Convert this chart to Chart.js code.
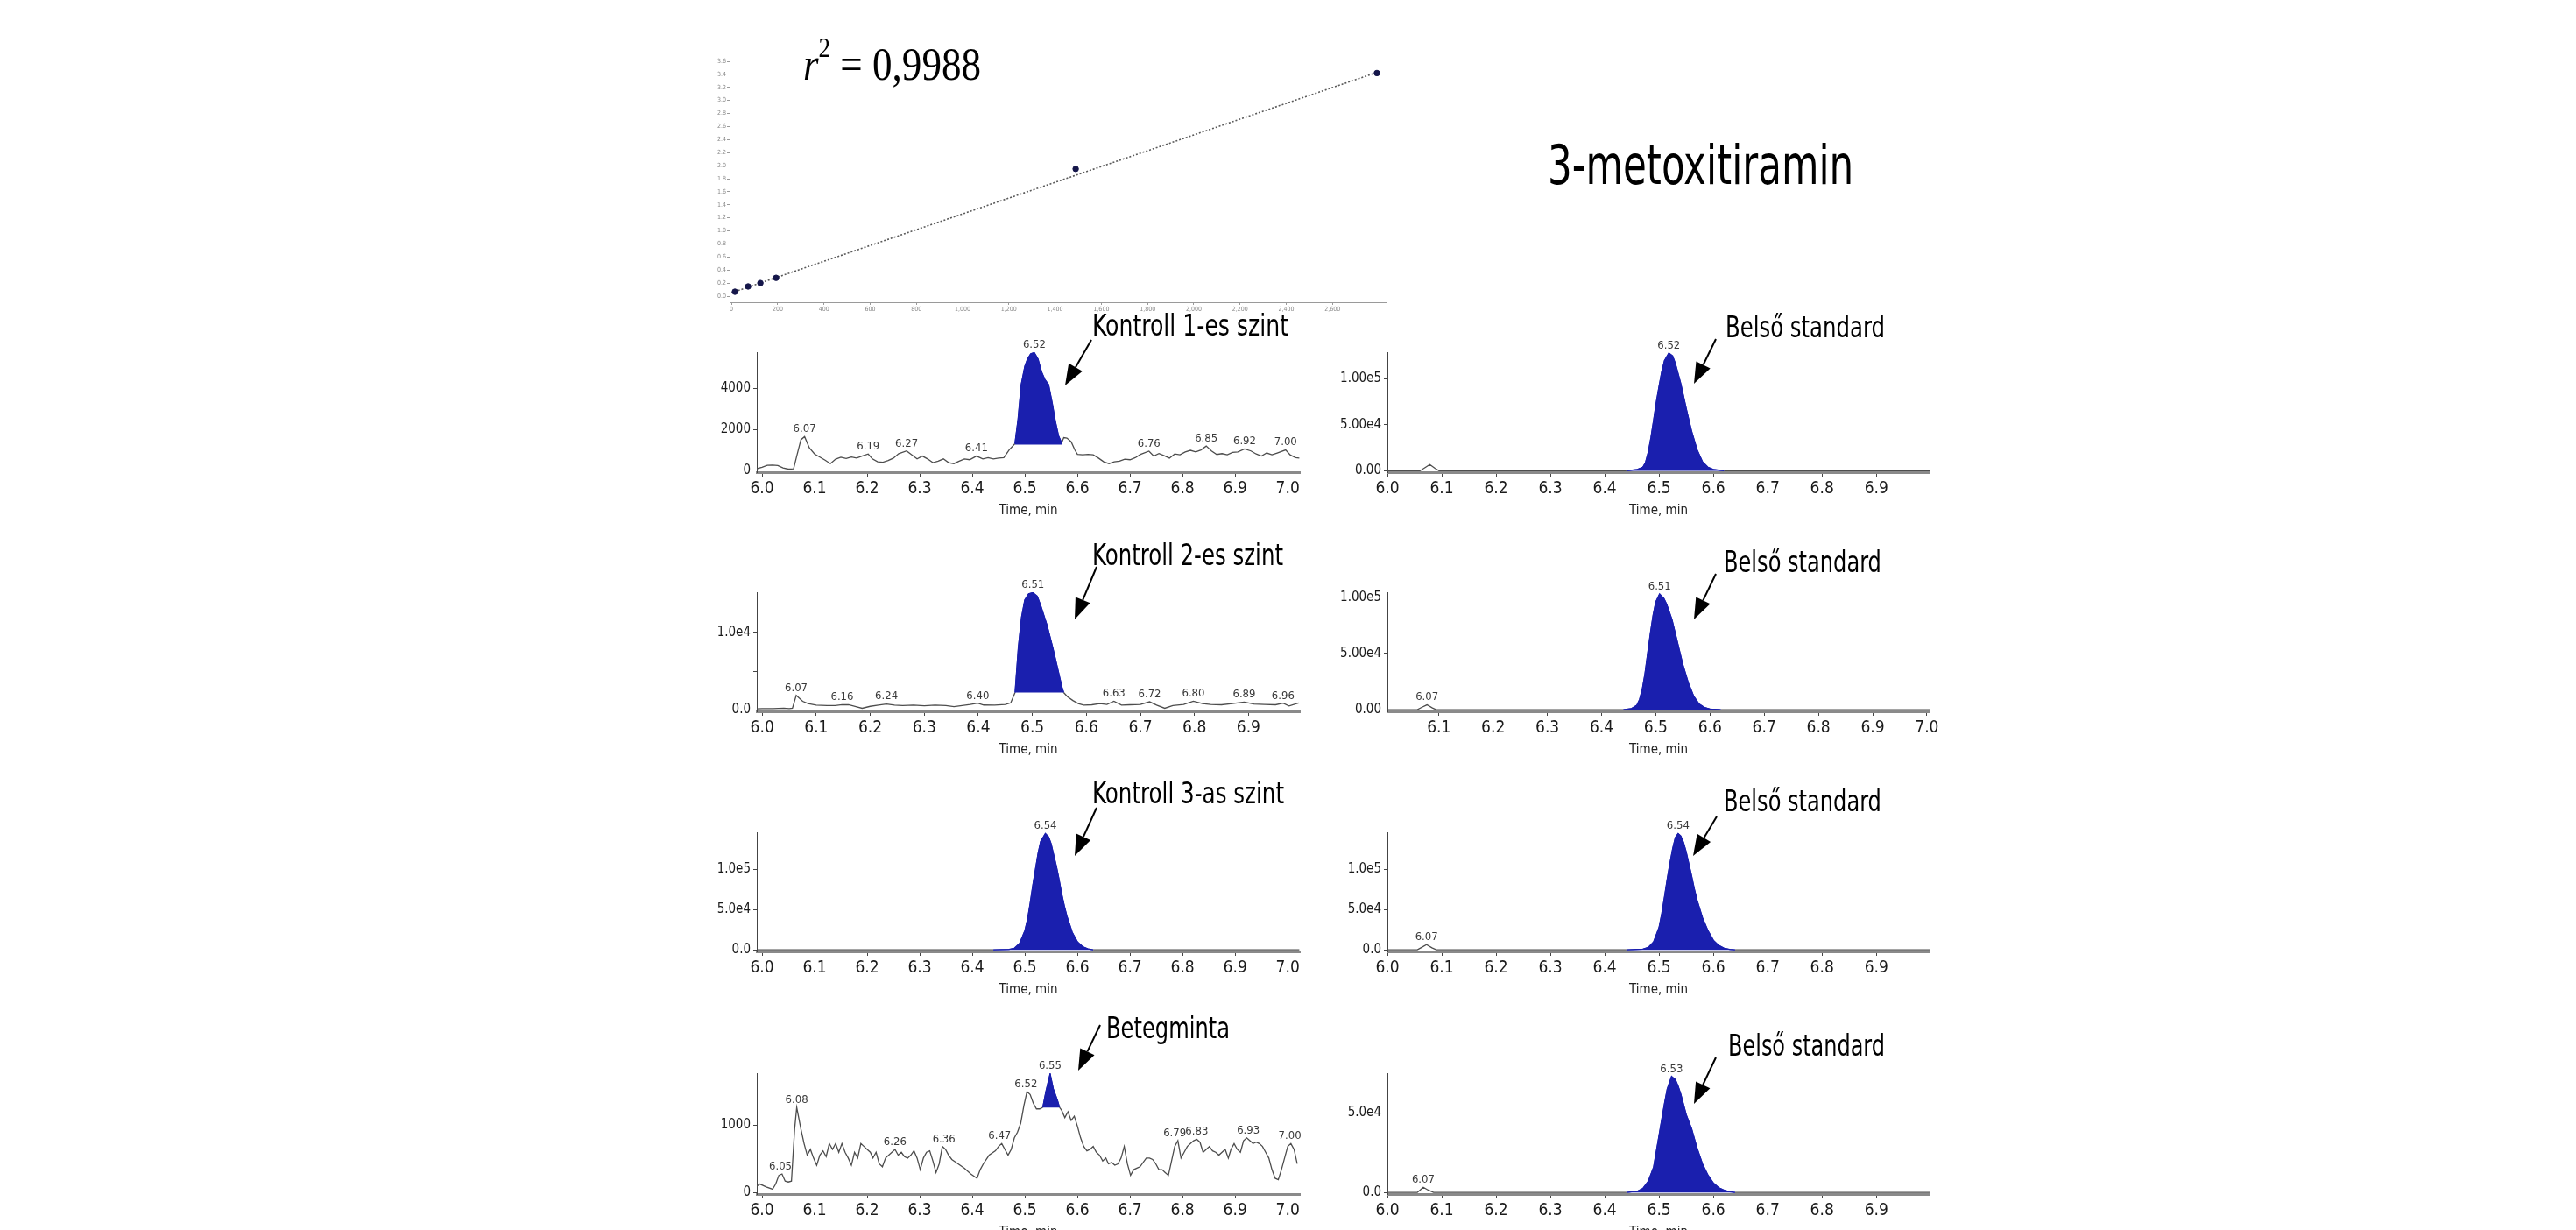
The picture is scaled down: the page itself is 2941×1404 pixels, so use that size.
<!DOCTYPE html>
<html>
<head>
<meta charset="utf-8">
<title>3-metoxitiramin</title>
<script src="https://cdn.jsdelivr.net/npm/chart.js@4.4.1/dist/chart.umd.min.js"></script>
<style>
  html, body { margin: 0; padding: 0; background: #fff; }
  body { width: 2941px; height: 1404px; overflow: hidden; position: relative; }
  .panel { position: absolute; }
  .lbl { position: absolute; white-space: nowrap; line-height: 1; transform-origin: 0 0; color: #000; }
  #arrows { position: absolute; left: 0; top: 0; z-index: 5; pointer-events: none; }
</style>
</head>
<body>
<canvas id="arrows" width="2941" height="1404"></canvas>
<script>
// ---- adatok (kalibráció) ----
const calConc = [15, 72, 125, 193, 1489, 2792];
const calRatio = [0.067, 0.148, 0.20, 0.28, 1.95, 3.42];
const calFitConc = [0, 2800];
const calFitRatio = [0.05, 3.44];
const calXTicks = [0, 200, 400, 600, 800, 1000, 1200, 1400, 1600, 1800, 2000, 2200, 2400, 2600];
const calYTicks = [0, 0.2, 0.4, 0.6, 0.8, 1.0, 1.2, 1.4, 1.6, 1.8, 2.0, 2.2, 2.4, 2.6, 2.8, 3.0, 3.2, 3.4, 3.6];

// ---- kromatogramok: [idő (min), intenzitás (cps)] ----
const timeTicks = [6.0, 6.1, 6.2, 6.3, 6.4, 6.5, 6.6, 6.7, 6.8, 6.9, 7.0];

const kontroll1 = [[5.982,60],[5.99,80],[6.00,150],[6.01,250],[6.02,260],[6.03,240],[6.04,120],[6.05,60],[6.06,80],[6.066,700],[6.074,1500],[6.081,1650],[6.09,1100],[6.10,800],[6.11,650],[6.12,500],[6.13,330],[6.14,550],[6.15,640],[6.16,580],[6.17,650],[6.18,600],[6.19,700],[6.202,800],[6.21,560],[6.22,420],[6.23,400],[6.24,480],[6.25,600],[6.26,820],[6.275,950],[6.285,760],[6.295,560],[6.305,700],[6.315,560],[6.325,380],[6.335,450],[6.345,560],[6.355,380],[6.365,330],[6.375,450],[6.385,560],[6.395,520],[6.408,700],[6.42,560],[6.43,620],[6.44,560],[6.45,600],[6.46,620],[6.47,1000],[6.481,1300],[6.487,2500],[6.493,4200],[6.50,5100],[6.505,5450],[6.511,5700],[6.518,5760],[6.525,5450],[6.532,4800],[6.538,4450],[6.545,4200],[6.552,3300],[6.558,2400],[6.564,1700],[6.57,1350],[6.574,1600],[6.58,1580],[6.588,1400],[6.595,1000],[6.60,780],[6.61,760],[6.62,780],[6.63,760],[6.64,600],[6.65,420],[6.66,330],[6.67,420],[6.68,450],[6.69,550],[6.70,520],[6.71,620],[6.72,780],[6.736,940],[6.745,700],[6.755,820],[6.765,720],[6.775,600],[6.785,800],[6.795,760],[6.805,900],[6.815,980],[6.825,900],[6.835,1000],[6.845,1190],[6.855,950],[6.865,780],[6.875,820],[6.885,760],[6.895,880],[6.905,900],[6.918,1050],[6.93,950],[6.94,800],[6.95,700],[6.96,850],[6.97,760],[6.98,850],[6.996,1000],[7.005,750],[7.015,620],[7.022,600]];
const kontroll1PeakAt = [6.081, 6.202, 6.275, 6.408, 6.518, 6.736, 6.845, 6.918, 6.996];
const kontroll1PeakText = ['6.07', '6.19', '6.27', '6.41', '6.52', '6.76', '6.85', '6.92', '7.00'];

const belso1 = [[6.00,0],[6.06,0],[6.068,3000],[6.078,6900],[6.088,2500],[6.095,0],[6.44,0],[6.46,1500],[6.47,4000],[6.475,9000],[6.48,20000],[6.485,36000],[6.49,55000],[6.495,75000],[6.50,92000],[6.505,108000],[6.51,120000],[6.518,128000],[6.525,125000],[6.53,117000],[6.54,95000],[6.55,68000],[6.56,43000],[6.57,23000],[6.58,10000],[6.59,4000],[6.60,1500],[6.62,0],[7.00,0]];
const belso1PeakAt = [6.518];
const belso1PeakText = ['6.52'];

const kontroll2 = [[5.985,100],[6.00,150],[6.02,150],[6.04,200],[6.05,150],[6.056,200],[6.063,1870],[6.075,1100],[6.085,800],[6.10,600],[6.12,560],[6.135,560],[6.148,670],[6.16,650],[6.175,380],[6.185,200],[6.20,450],[6.215,600],[6.23,750],[6.245,600],[6.26,560],[6.28,600],[6.30,520],[6.32,600],[6.34,560],[6.355,400],[6.37,560],[6.385,700],[6.399,860],[6.41,620],[6.43,600],[6.45,700],[6.46,900],[6.468,2240],[6.474,8000],[6.48,12000],[6.486,14200],[6.493,15000],[6.501,15150],[6.509,14700],[6.515,13600],[6.527,11000],[6.538,8000],[6.548,5000],[6.555,2900],[6.558,2240],[6.565,1700],[6.575,1200],[6.585,800],[6.595,600],[6.61,650],[6.625,800],[6.638,700],[6.651,1100],[6.665,600],[6.68,650],[6.70,700],[6.717,1040],[6.73,600],[6.745,200],[6.76,560],[6.78,700],[6.798,1120],[6.815,800],[6.83,700],[6.85,650],[6.87,800],[6.892,1000],[6.91,750],[6.93,700],[6.95,650],[6.964,860],[6.975,500],[6.993,900]];
const kontroll2PeakAt = [6.063, 6.148, 6.23, 6.399, 6.501, 6.651, 6.717, 6.798, 6.892, 6.964];
const kontroll2PeakText = ['6.07', '6.16', '6.24', '6.40', '6.51', '6.63', '6.72', '6.80', '6.89', '6.96'];

const belso2 = [[6.005,0],[6.06,0],[6.068,2000],[6.078,4300],[6.088,1500],[6.095,0],[6.44,0],[6.455,1000],[6.465,4000],[6.47,9000],[6.475,18000],[6.48,32000],[6.485,50000],[6.49,68000],[6.495,84000],[6.50,96000],[6.507,103000],[6.515,99000],[6.52,94000],[6.53,80000],[6.54,60000],[6.55,40000],[6.56,24000],[6.57,12000],[6.58,5000],[6.59,2000],[6.60,600],[6.62,0],[7.005,0]];
const belso2PeakAt = [6.078, 6.507];
const belso2PeakText = ['6.07', '6.51'];

const kontroll3 = [[5.99,0],[6.44,0],[6.47,500],[6.48,2000],[6.49,8000],[6.50,24000],[6.505,38000],[6.51,58000],[6.515,80000],[6.52,100000],[6.525,120000],[6.53,135000],[6.539,145000],[6.545,141000],[6.55,132000],[6.555,118000],[6.56,104000],[6.565,88000],[6.57,70000],[6.575,55000],[6.58,42000],[6.59,22000],[6.60,10000],[6.61,4000],[6.62,1200],[6.63,0],[7.022,0]];
const kontroll3PeakAt = [6.539];
const kontroll3PeakText = ['6.54'];

const belso3 = [[6.0,0],[6.055,0],[6.063,3000],[6.072,6400],[6.082,2500],[6.09,0],[6.44,0],[6.47,800],[6.48,3000],[6.49,10000],[6.50,28000],[6.505,45000],[6.51,66000],[6.515,88000],[6.52,108000],[6.525,126000],[6.53,140000],[6.535,145000],[6.54,142000],[6.545,134000],[6.55,122000],[6.555,107000],[6.56,92000],[6.565,76000],[6.57,62000],[6.58,40000],[6.59,24000],[6.60,12000],[6.61,5500],[6.62,2000],[6.63,500],[6.64,0],[6.998,0]];
const belso3PeakAt = [6.072, 6.535];
const belso3PeakText = ['6.07', '6.54'];

const beteg = [[5.984,64],[5.996,129],[6.008,86],[6.020,52],[6.026,129],[6.032,258],[6.038,279],[6.044,172],[6.050,159],[6.056,172],[6.062,944],[6.066,1266],[6.074,944],[6.080,730],[6.086,558],[6.092,644],[6.098,515],[6.104,408],[6.110,558],[6.116,622],[6.122,536],[6.128,730],[6.134,644],[6.140,730],[6.146,601],[6.152,730],[6.158,601],[6.164,515],[6.170,408],[6.176,601],[6.182,515],[6.188,730],[6.194,687],[6.200,644],[6.206,601],[6.211,515],[6.217,601],[6.223,429],[6.229,386],[6.235,515],[6.247,600],[6.253,644],[6.259,558],[6.265,601],[6.271,536],[6.277,515],[6.283,558],[6.289,622],[6.295,515],[6.301,343],[6.307,515],[6.313,601],[6.319,622],[6.325,472],[6.331,300],[6.337,429],[6.343,687],[6.349,644],[6.355,558],[6.361,494],[6.373,429],[6.385,365],[6.397,279],[6.409,215],[6.415,343],[6.421,429],[6.432,558],[6.444,622],[6.450,687],[6.456,730],[6.462,644],[6.468,558],[6.474,644],[6.480,815],[6.486,901],[6.492,1030],[6.498,1288],[6.504,1502],[6.510,1459],[6.516,1330],[6.522,1245],[6.528,1245],[6.534,1266],[6.540,1502],[6.548,1768],[6.554,1545],[6.562,1373],[6.566,1266],[6.570,1223],[6.576,1116],[6.582,1202],[6.588,1073],[6.594,1137],[6.600,987],[6.606,815],[6.612,687],[6.618,622],[6.624,644],[6.630,687],[6.636,601],[6.642,558],[6.648,472],[6.654,515],[6.659,429],[6.665,451],[6.671,408],[6.677,429],[6.683,515],[6.689,687],[6.695,429],[6.701,258],[6.707,343],[6.713,365],[6.719,386],[6.731,515],[6.737,515],[6.743,494],[6.749,429],[6.755,343],[6.761,343],[6.767,300],[6.773,258],[6.779,472],[6.785,687],[6.791,773],[6.797,515],[6.803,601],[6.809,687],[6.815,730],[6.821,773],[6.827,794],[6.833,751],[6.839,601],[6.845,644],[6.851,687],[6.857,622],[6.863,601],[6.869,558],[6.875,601],[6.881,644],[6.887,515],[6.892,644],[6.898,730],[6.904,644],[6.910,601],[6.916,773],[6.922,815],[6.928,773],[6.934,730],[6.940,751],[6.946,730],[6.952,687],[6.958,601],[6.964,515],[6.970,343],[6.976,215],[6.982,193],[6.988,343],[6.994,515],[7.000,687],[7.006,730],[7.012,644],[7.018,429]];
const betegPeakAt = [6.035, 6.066, 6.253, 6.346, 6.452, 6.502, 6.548, 6.785, 6.827, 6.925, 7.004];
const betegPeakText = ['6.05', '6.08', '6.26', '6.36', '6.47', '6.52', '6.55', '6.79', '6.83', '6.93', '7.00'];

const belso4 = [[6.0,0],[6.055,0],[6.06,1500],[6.066,3300],[6.075,1500],[6.085,0],[6.44,0],[6.46,800],[6.47,2500],[6.48,7000],[6.49,16000],[6.50,36000],[6.505,46000],[6.51,56000],[6.515,65000],[6.523,73000],[6.53,71000],[6.535,67000],[6.54,62000],[6.55,49000],[6.56,40000],[6.565,34000],[6.57,28000],[6.58,18000],[6.59,11000],[6.60,6000],[6.61,3000],[6.62,1400],[6.63,500],[6.64,0],[6.998,0]];
const belso4PeakAt = [6.066, 6.523];
const belso4PeakText = ['6.07', '6.53'];

// y tengely osztások
const yTicksK1 = [0, 2000, 4000],      yLabelsK1 = ['0', '2000', '4000'];
const yTicksB12 = [0, 50000, 100000],  yLabelsB12 = ['0.00', '5.00e4', '1.00e5'];
const yTicksK2 = [0, 5000, 10000],     yLabelsK2 = ['0.0', '', '1.0e4'];
const yTicks3 = [0, 50000, 100000],    yLabels3 = ['0.0', '5.0e4', '1.0e5'];
const yTicksBeteg = [0, 1000],         yLabelsBeteg = ['0', '1000'];
const yTicksB4 = [0, 50000],           yLabelsB4 = ['0.0', '5.0e4'];

// ---- stílus ----
const BLUE = '#1a1fae';
const TRACE = '#4d4d4d';
const NARROW = "'Liberation Sans Narrow', 'DejaVu Sans Condensed', sans-serif";
const AX_W = 80, AX_H = 57, PAD_T = 40, PAD_R = 25;

function makePeakLabels(at, text) {
  return {
    id: 'peakLabels',
    afterDatasetsDraw(chart) {
      const { ctx, scales: { x, y } } = chart;
      const trace = chart.data.datasets[0].data;
      ctx.save();
      ctx.font = '13px ' + NARROW;
      ctx.fillStyle = '#3a3a3a';
      ctx.textAlign = 'center';
      ctx.textBaseline = 'bottom';
      at.forEach((t, i) => {
        let top = 0;
        trace.forEach(p => { if (Math.abs(p.x - t) <= 0.008) top = Math.max(top, p.y); });
        ctx.fillText(text[i], x.getPixelForValue(t), y.getPixelForValue(top) - 2);
      });
      ctx.restore();
    }
  };
}

function chromatogram(p) {
  const [l, t, r, b] = p.box;
  const wrap = document.createElement('div');
  wrap.className = 'panel';
  wrap.style.left = (l - AX_W) + 'px';
  wrap.style.top = (t - PAD_T) + 'px';
  const cv = document.createElement('canvas');
  cv.width = r - l + AX_W + PAD_R;
  cv.height = b - t + PAD_T + AX_H;
  wrap.appendChild(cv);
  document.body.appendChild(wrap);

  const trace = p.trace.map(([x, y]) => ({ x, y }));
  const inPeak = x => x >= p.fill[0] - 1e-9 && x <= p.fill[1] + 1e-9;
  const peak = trace.filter(pt => inPeak(pt.x));

  new Chart(cv, {
    type: 'line',
    data: {
      datasets: [
        { data: trace, borderColor: TRACE, borderWidth: 1.3, pointRadius: 0, tension: 0, fill: false, order: 0,
          segment: { borderColor: c => (inPeak(c.p0.parsed.x) && inPeak(c.p1.parsed.x)) ? BLUE : TRACE } },
        { data: peak, borderColor: BLUE, borderWidth: 1, backgroundColor: BLUE, pointRadius: 0, tension: 0,
          fill: { value: p.fillBase }, order: 1 }
      ]
    },
    options: {
      responsive: false, animation: false, events: [],
      layout: { padding: { top: PAD_T, right: PAD_R, left: 0, bottom: 0 } },
      plugins: { legend: { display: false }, tooltip: { enabled: false } },
      scales: {
        x: {
          type: 'linear', min: p.xMin, max: p.xMax,
          afterBuildTicks: s => { s.ticks = timeTicks.filter(v => v >= s.min - 1e-6 && v <= s.max + 1e-6).map(v => ({ value: v })); },
          afterFit: s => { s.height = AX_H; },
          ticks: { autoSkip: false, maxRotation: 0, padding: 3, color: '#1a1a1a', font: { family: NARROW, size: 19 }, callback: v => v.toFixed(1) },
          grid: { drawOnChartArea: false, drawTicks: true, tickLength: 5, color: '#444' },
          border: { display: true, color: '#8a8a8a', width: 3 },
          title: { display: true, text: 'Time, min', color: '#222', font: { family: NARROW, size: 15 }, padding: { top: 2, bottom: 4 } }
        },
        y: {
          min: p.yMin, max: p.yMax,
          afterBuildTicks: s => { s.ticks = p.yTicks.map(v => ({ value: v })); },
          afterFit: s => { s.width = AX_W; },
          ticks: { autoSkip: false, padding: 3, color: '#1a1a1a', font: { family: NARROW, size: 15 }, callback: (v, i) => p.yLabels[i] },
          grid: { drawOnChartArea: false, tickLength: 4, color: '#444' },
          border: { color: '#444', width: 1 }
        }
      }
    },
    plugins: [makePeakLabels(p.labelAt, p.labelText)]
  });
}

// ---- elrendezés ----
const LEFT = [864, 1484], RIGHT = [1584, 2203];
const ROWS = [[402, 539], [676, 812], [950, 1086], [1225, 1363]];

chromatogram({ box: [LEFT[0], ROWS[0][0], LEFT[1], ROWS[0][1]], xMin: 5.99, xMax: 7.023, yMin: -90, yMax: 5780,
  trace: kontroll1, fill: [6.481, 6.57], fillBase: 1260, yTicks: yTicksK1, yLabels: yLabelsK1, labelAt: kontroll1PeakAt, labelText: kontroll1PeakText });
chromatogram({ box: [RIGHT[0], ROWS[0][0], RIGHT[1], ROWS[0][1]], xMin: 6.0, xMax: 6.998, yMin: -1500, yMax: 129000,
  trace: belso1, fill: [6.44, 6.62], fillBase: 0, yTicks: yTicksB12, yLabels: yLabelsB12, labelAt: belso1PeakAt, labelText: belso1PeakText });
chromatogram({ box: [LEFT[0], ROWS[1][0], LEFT[1], ROWS[1][1]], xMin: 5.99, xMax: 6.995, yMin: -200, yMax: 15200,
  trace: kontroll2, fill: [6.468, 6.558], fillBase: 2240, yTicks: yTicksK2, yLabels: yLabelsK2, labelAt: kontroll2PeakAt, labelText: kontroll2PeakText });
chromatogram({ box: [RIGHT[0], ROWS[1][0], RIGHT[1], ROWS[1][1]], xMin: 6.005, xMax: 7.005, yMin: -1500, yMax: 104500,
  trace: belso2, fill: [6.44, 6.62], fillBase: 0, yTicks: yTicksB12, yLabels: yLabelsB12, labelAt: belso2PeakAt, labelText: belso2PeakText });
chromatogram({ box: [LEFT[0], ROWS[2][0], LEFT[1], ROWS[2][1]], xMin: 5.99, xMax: 7.023, yMin: -2000, yMax: 146500,
  trace: kontroll3, fill: [6.44, 6.63], fillBase: 0, yTicks: yTicks3, yLabels: yLabels3, labelAt: kontroll3PeakAt, labelText: kontroll3PeakText });
chromatogram({ box: [RIGHT[0], ROWS[2][0], RIGHT[1], ROWS[2][1]], xMin: 6.0, xMax: 6.998, yMin: -2000, yMax: 146500,
  trace: belso3, fill: [6.44, 6.64], fillBase: 0, yTicks: yTicks3, yLabels: yLabels3, labelAt: belso3PeakAt, labelText: belso3PeakText });
chromatogram({ box: [LEFT[0], ROWS[3][0], LEFT[1], ROWS[3][1]], xMin: 5.99, xMax: 7.023, yMin: -20, yMax: 1775,
  trace: beteg, fill: [6.534, 6.566], fillBase: 1266, yTicks: yTicksBeteg, yLabels: yLabelsBeteg, labelAt: betegPeakAt, labelText: betegPeakText });
chromatogram({ box: [RIGHT[0], ROWS[3][0], RIGHT[1], ROWS[3][1]], xMin: 6.0, xMax: 6.998, yMin: -1000, yMax: 75000,
  trace: belso4, fill: [6.44, 6.64], fillBase: 0, yTicks: yTicksB4, yLabels: yLabelsB4, labelAt: belso4PeakAt, labelText: belso4PeakText });

// ---- kalibrációs görbe ----
(function () {
  const box = [833, 70, 1582, 345];
  const CW = 40, CT = 20, CR = 20, CH = 25;
  const wrap = document.createElement('div');
  wrap.className = 'panel';
  wrap.style.left = (box[0] - CW) + 'px';
  wrap.style.top = (box[1] - CT) + 'px';
  const cv = document.createElement('canvas');
  cv.width = box[2] - box[0] + CW + CR;
  cv.height = box[3] - box[1] + CT + CH;
  wrap.appendChild(cv);
  document.body.appendChild(wrap);
  const tiny = { family: "'DejaVu Sans Condensed', sans-serif", size: 7 };
  new Chart(cv, {
    type: 'scatter',
    data: {
      datasets: [
        { type: 'line', data: calFitConc.map((x, i) => ({ x, y: calFitRatio[i] })), borderColor: '#5a5a5a', borderWidth: 1.6,
          borderDash: [2, 2], pointRadius: 0, fill: false, order: 1 },
        { data: calConc.map((x, i) => ({ x, y: calRatio[i] })), backgroundColor: '#15164a', borderColor: '#15164a',
          pointRadius: 3.2, order: 0 }
      ]
    },
    options: {
      responsive: false, animation: false, events: [],
      layout: { padding: { top: CT, right: CR, left: 0, bottom: 0 } },
      plugins: { legend: { display: false }, tooltip: { enabled: false } },
      scales: {
        x: {
          type: 'linear', min: -8, max: 2830,
          afterBuildTicks: s => { s.ticks = calXTicks.map(v => ({ value: v })); },
          afterFit: s => { s.height = CH; },
          ticks: { autoSkip: false, maxRotation: 0, padding: 1, color: '#8a8a8a', font: tiny },
          grid: { drawOnChartArea: false, tickLength: 3, color: '#9a9a9a' },
          border: { color: '#9a9a9a', width: 1 }
        },
        y: {
          min: -0.094, max: 3.6,
          afterBuildTicks: s => { s.ticks = calYTicks.map(v => ({ value: v })); },
          afterFit: s => { s.width = CW; },
          ticks: { autoSkip: false, padding: 1, color: '#8a8a8a', font: tiny, callback: v => v.toFixed(1) },
          grid: { drawOnChartArea: false, tickLength: 3, color: '#9a9a9a' },
          border: { color: '#9a9a9a', width: 1 }
        }
      }
    }
  });
})();

// ---- feliratok ----
const SANS_N = "'Liberation Sans Narrow', 'DejaVu Sans Condensed', sans-serif";
const texts = [
  { text: '3-metoxitiramin', left: 1767, baseline: 210, size: 62, width: 349, font: SANS_N },
  { html: '<i>r</i><span style="font-size:0.6em;position:relative;top:-26px">2</span> = 0,9988', left: 917, baseline: 92, size: 52, width: 203, font: "'Liberation Serif', 'DejaVu Serif', serif" },
  { text: 'Kontroll 1-es szint', left: 1247, baseline: 383, size: 34, width: 224, font: SANS_N },
  { text: 'Belső standard', left: 1970, baseline: 385, size: 34, width: 182, font: SANS_N },
  { text: 'Kontroll 2-es szint', left: 1247, baseline: 645, size: 34, width: 218, font: SANS_N },
  { text: 'Belső standard', left: 1968, baseline: 653, size: 34, width: 180, font: SANS_N },
  { text: 'Kontroll 3-as szint', left: 1247, baseline: 917, size: 34, width: 219, font: SANS_N },
  { text: 'Belső standard', left: 1968, baseline: 926, size: 34, width: 180, font: SANS_N },
  { text: 'Betegminta', left: 1263, baseline: 1185, size: 34, width: 141, font: SANS_N },
  { text: 'Belső standard', left: 1973, baseline: 1205, size: 34, width: 179, font: SANS_N }
];
texts.forEach(t => {
  const el = document.createElement('div');
  el.className = 'lbl';
  el.style.fontFamily = t.font;
  el.style.fontSize = t.size + 'px';
  if (t.html) el.innerHTML = t.html; else el.textContent = t.text;
  document.body.appendChild(el);
  const w = el.getBoundingClientRect().width;
  el.style.left = t.left + 'px';
  el.style.top = (t.baseline - t.size * 0.845) + 'px';
  el.style.transform = 'scaleX(' + (t.width / w).toFixed(3) + ')';
});

// ---- nyilak ----
const arrowLines = [
  [1246, 388, 1216, 440], [1959, 387, 1934, 438],
  [1252, 647, 1227, 707], [1959, 655, 1934, 707],
  [1252, 922, 1227, 977], [1960, 932, 1933, 977],
  [1256, 1170, 1231, 1222], [1959, 1207, 1934, 1260]
];
const actx = document.getElementById('arrows').getContext('2d');
actx.strokeStyle = '#000';
actx.fillStyle = '#000';
arrowLines.forEach(([x1, y1, x2, y2]) => {
  const a = Math.atan2(y2 - y1, x2 - x1);
  const L = 24, hw = 9;
  const bx = x2 - L * Math.cos(a), by = y2 - L * Math.sin(a);
  actx.beginPath();
  actx.lineWidth = 2;
  actx.moveTo(x1, y1);
  actx.lineTo(bx, by);
  actx.stroke();
  actx.beginPath();
  actx.moveTo(x2, y2);
  actx.lineTo(bx + hw * Math.sin(a), by - hw * Math.cos(a));
  actx.lineTo(bx - hw * Math.sin(a), by + hw * Math.cos(a));
  actx.closePath();
  actx.fill();
});
</script>
</body>
</html>
